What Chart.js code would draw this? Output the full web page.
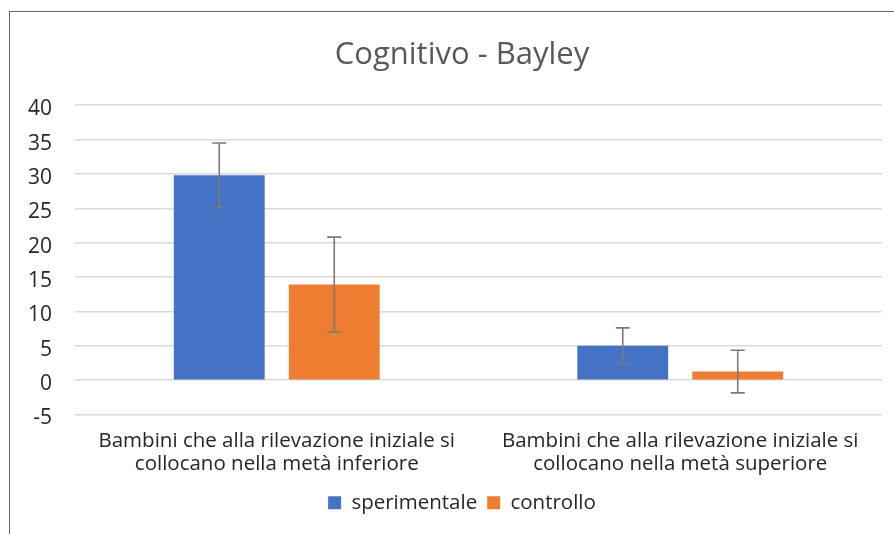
<!DOCTYPE html>
<html>
<head>
<meta charset="utf-8">
<script src="https://cdn.jsdelivr.net/npm/chart.js@4/dist/chart.umd.min.js"></script>
<style>
  body { margin: 0; background: #fff; }
  #wrap { position: relative; width: 894px; height: 534px; overflow: hidden; }
  #frame { position: absolute; left: 9px; top: 11px; width: 1000px; height: 1000px; border: 1.5px solid #666; }
  canvas { position: absolute; left: 0; top: 0; }
</style>
</head>
<body>
<div id="wrap">
  <div id="frame"></div>
  <canvas id="chart" width="924" height="534"></canvas>
</div>
<script>
const categories = [
    ['Bambini che alla rilevazione iniziale si', 'collocano nella metà inferiore'],
    ['Bambini che alla rilevazione iniziale si', 'collocano nella metà superiore']
];
const sperimentale = [29.8, 5.0];
const sperimentaleErr = [4.7, 2.6];
const controllo = [13.9, 1.25];
const controlloErr = [6.9, 3.1];
const yTicks = [-5, 0, 5, 10, 15, 20, 25, 30, 35, 40];

const FONT = '"Open Sans", sans-serif';

// barre di errore disegnate sopra le barre
const errorBars = {
    id: 'errorBars',
    afterDatasetsDraw(chart) {
        const ctx = chart.ctx;
        const y = chart.scales.y;
        ctx.save();
        ctx.strokeStyle = '#7a7a7a';
        ctx.lineWidth = 1.6;
        chart.data.datasets.forEach((ds, i) => {
            const meta = chart.getDatasetMeta(i);
            meta.data.forEach((bar, j) => {
                const v = ds.data[j];
                const e = ds.errors[j];
                const top = y.getPixelForValue(v + e);
                const bot = y.getPixelForValue(v - e);
                const x = bar.x;
                ctx.beginPath();
                ctx.moveTo(x, top); ctx.lineTo(x, bot);
                ctx.moveTo(x - 7, top); ctx.lineTo(x + 7, top);
                ctx.moveTo(x - 7, bot); ctx.lineTo(x + 7, bot);
                ctx.stroke();
            });
        });
        ctx.restore();
    }
};

new Chart(document.getElementById('chart'), {
    type: 'bar',
    data: {
        labels: categories,
        datasets: [{
            label: 'sperimentale',
            data: sperimentale,
            errors: sperimentaleErr,
            backgroundColor: '#4472C4'
        }, {
            label: 'controllo',
            data: controllo,
            errors: controlloErr,
            backgroundColor: '#ED7D31'
        }]
    },
    options: {
        responsive: false,
        animation: false,
        categoryPercentage: 0.57,
        barPercentage: 0.79,
        layout: { padding: { left: 0, right: 0, top: 0, bottom: 11 } },
        plugins: {
            title: {
                display: true,
                text: 'Cognitivo - Bayley',
                color: '#595959',
                font: { family: FONT, size: 31, weight: 'normal', lineHeight: 1.2 },
                padding: { top: 37, bottom: 31 }
            },
            legend: {
                position: 'bottom',
                labels: {
                    color: '#262626',
                    font: { family: FONT, size: 20.5 },
                    boxWidth: 13,
                    boxHeight: 13,
                    padding: 10
                }
            },
            tooltip: { enabled: false }
        },
        scales: {
            x: {
                grid: { display: false },
                border: { display: false },
                afterFit: s => { s.height = 68; },
                ticks: {
                    color: '#262626',
                    font: { family: FONT, size: 20.5, lineHeight: 1.12 },
                    padding: 7,
                    maxRotation: 0
                }
            },
            y: {
                min: -5,
                max: 40,
                afterBuildTicks: s => { s.ticks = yTicks.map(v => ({ value: v })); },
                afterFit: s => { s.width = 75; },
                grid: { color: '#d9d9d9', lineWidth: 1.5, drawTicks: false },
                border: { display: false },
                ticks: {
                    color: '#262626',
                    font: { family: FONT, size: 21 },
                    padding: 23,
                    labelOffset: 4
                }
            },
            // asse vuoto a destra: sposta il centro del titolo come nell'originale
            y2: {
                type: 'linear',
                position: 'right',
                afterFit: s => { s.width = 42; },
                grid: { display: false },
                border: { display: false },
                ticks: { display: false }
            }
        }
    },
    plugins: [errorBars]
});
</script>
</body>
</html>
